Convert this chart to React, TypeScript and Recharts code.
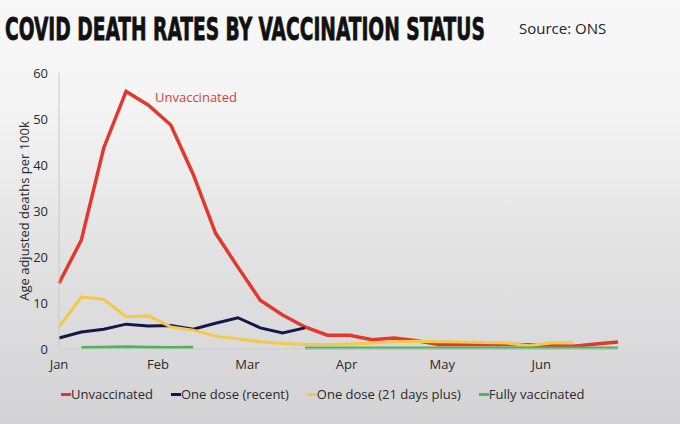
import { useLayoutEffect, useRef, useState } from "react"
import { LineChart, Line, XAxis, YAxis, Legend } from "recharts"

// days since 1 Jan for each weekly ONS figure
const weekDays = [0, 7, 14, 21, 28, 35, 42, 49, 56, 63, 70, 77, 84, 91, 98, 105, 112, 119, 126, 133, 140, 147, 154, 161, 168, 175]

const unvaccinated = [14.3, 23.7, 43.7, 56, 53, 48.7, 38, 25.2, 17.8, 10.6, 7.4, 4.8, 3.0, 3.0, 2.0, 2.4, 1.8, 1.0, 1.0, 1.0, 1.0, 0.9, 0.7, 0.6, 1.1, 1.5]
const oneDoseRecent = [2.4, 3.7, 4.3, 5.4, 5.0, 5.1, 4.3, 5.6, 6.8, 4.6, 3.5, 4.6, null, null, null, null, null, null, null, null, null, null, null, null, null, null]
const oneDose21 = [4.8, 11.3, 10.8, 7.0, 7.2, 4.8, 4.1, 2.8, 2.2, 1.6, 1.2, 1.0, 1.0, 1.1, 1.3, 1.6, 1.7, 1.6, 1.5, 1.4, 1.3, 0.7, 1.3, 1.4, null, null]
const fullyVaccinated = [null, 0.3, 0.4, 0.5, 0.4, 0.3, 0.4, null, null, null, null, 0.2, 0.2, 0.2, 0.2, 0.2, 0.2, 0.2, 0.2, 0.2, 0.2, 0.2, 0.2, 0.2, 0.2, 0.2]

const monthStarts = [0, 31, 59, 90, 120, 151]
const monthLabels = ["Jan", "Feb", "Mar", "Apr", "May", "Jun"]
const yTicks = [0, 10, 20, 30, 40, 50, 60]

const series = [
  { key: "unvaccinated", name: "Unvaccinated", color: "#e2392e", width: 3.5 },
  { key: "oneDoseRecent", name: "One dose (recent)", color: "#141848", width: 3 },
  { key: "oneDose21", name: "One dose (21 days plus)", color: "#f4c947", width: 3 },
  { key: "fullyVaccinated", name: "Fully vaccinated", color: "#4fb35e", width: 3 },
]

const data = weekDays.map((day, i) => ({
  day,
  unvaccinated: unvaccinated[i],
  oneDoseRecent: oneDoseRecent[i],
  oneDose21: oneDose21[i],
  fullyVaccinated: fullyVaccinated[i],
}))

const font = "'Open Sans', sans-serif"
const TITLE = "COVID DEATH RATES BY VACCINATION STATUS"

// condensed headline: shrink the font until it is 480px wide, then stretch it tall
function Title() {
  const ref = useRef<SVGTextElement>(null)
  const [fit, setFit] = useState({ size: 32, sy: 1 })
  useLayoutEffect(() => {
    if (!ref.current) return
    const len = ref.current.getComputedTextLength()
    const size = (32 * 480) / len
    setFit({ size, sy: 23.5 / (0.72 * size) })
  }, [])
  return (
    <text
      ref={ref}
      x={5}
      y={40}
      transform={`translate(0 40) scale(1 ${fit.sy}) translate(0 -40)`}
      fontFamily="'Liberation Sans Narrow', 'DejaVu Sans Condensed', sans-serif"
      fontWeight={700}
      fontSize={fit.size}
      fill="#111"
      stroke="#111"
      strokeWidth={0.5}
    >
      {TITLE}
    </text>
  )
}

function LegendRow() {
  return (
    <div style={{ display: "flex", alignItems: "center", height: 30, paddingLeft: 61, gap: 18, fontFamily: font, fontSize: 13, color: "#2a2a2a" }}>
      {series.map((s) => (
        <div key={s.key} style={{ display: "flex", alignItems: "center" }}>
          <span style={{ display: "inline-block", width: 10, height: 3, background: s.color }} />
          <span>{s.name}</span>
        </div>
      ))}
    </div>
  )
}

export default function App() {
  return (
    <div
      style={{
        position: "absolute",
        left: 0,
        top: 0,
        width: 680,
        height: 424,
        overflow: "hidden",
        background: "linear-gradient(to bottom, #f8f8f8 0%, #f4f4f4 25%, #e2e2e3 60%, #d3d3d5 100%)",
      }}
    >
      <LineChart
        width={680}
        height={424}
        data={data}
        margin={{ top: 73, right: 62, left: 0, bottom: 15 }}
      >
        <XAxis
          dataKey="day"
          type="number"
          domain={[0, 175]}
          ticks={monthStarts}
          tickFormatter={(d) => monthLabels[monthStarts.indexOf(d)]}
          tickLine={false}
          tickMargin={5}
          height={30}
          axisLine={{ stroke: "#cdcdcd" }}
          tick={{ fill: "#2a2a2a", fontSize: 13, fontFamily: font }}
        />
        <YAxis
          domain={[0, 60]}
          ticks={yTicks}
          width={59}
          tickLine={false}
          tickMargin={5}
          axisLine={{ stroke: "#c8c8c8" }}
          tick={{ fill: "#2a2a2a", fontSize: 13, fontFamily: font }}
          label={{
            value: "Age adjusted deaths per 100k",
            angle: -90,
            position: "insideLeft",
            offset: 24,
            style: { textAnchor: "middle", fill: "#2a2a2a", fontSize: 13, fontFamily: font },
          }}
        />
        <Legend verticalAlign="bottom" content={() => <LegendRow />} wrapperStyle={{ left: 0, width: 680 }} />
        {series.map((s) => (
          <Line
            key={s.key}
            dataKey={s.key}
            name={s.name}
            stroke={s.color}
            strokeWidth={s.width}
            dot={false}
            activeDot={false}
            isAnimationActive={false}
          />
        ))}
      </LineChart>
      <svg width={680} height={424} style={{ position: "absolute", left: 0, top: 0, pointerEvents: "none" }}>
        <Title />
        <text x={519} y={33.5} fontFamily={font} fontSize={15} fill="#222">
          Source: ONS
        </text>
        <text x={155} y={101.5} fontFamily={font} fontSize={13} fill="#d8403a">
          Unvaccinated
        </text>
      </svg>
    </div>
  )
}
